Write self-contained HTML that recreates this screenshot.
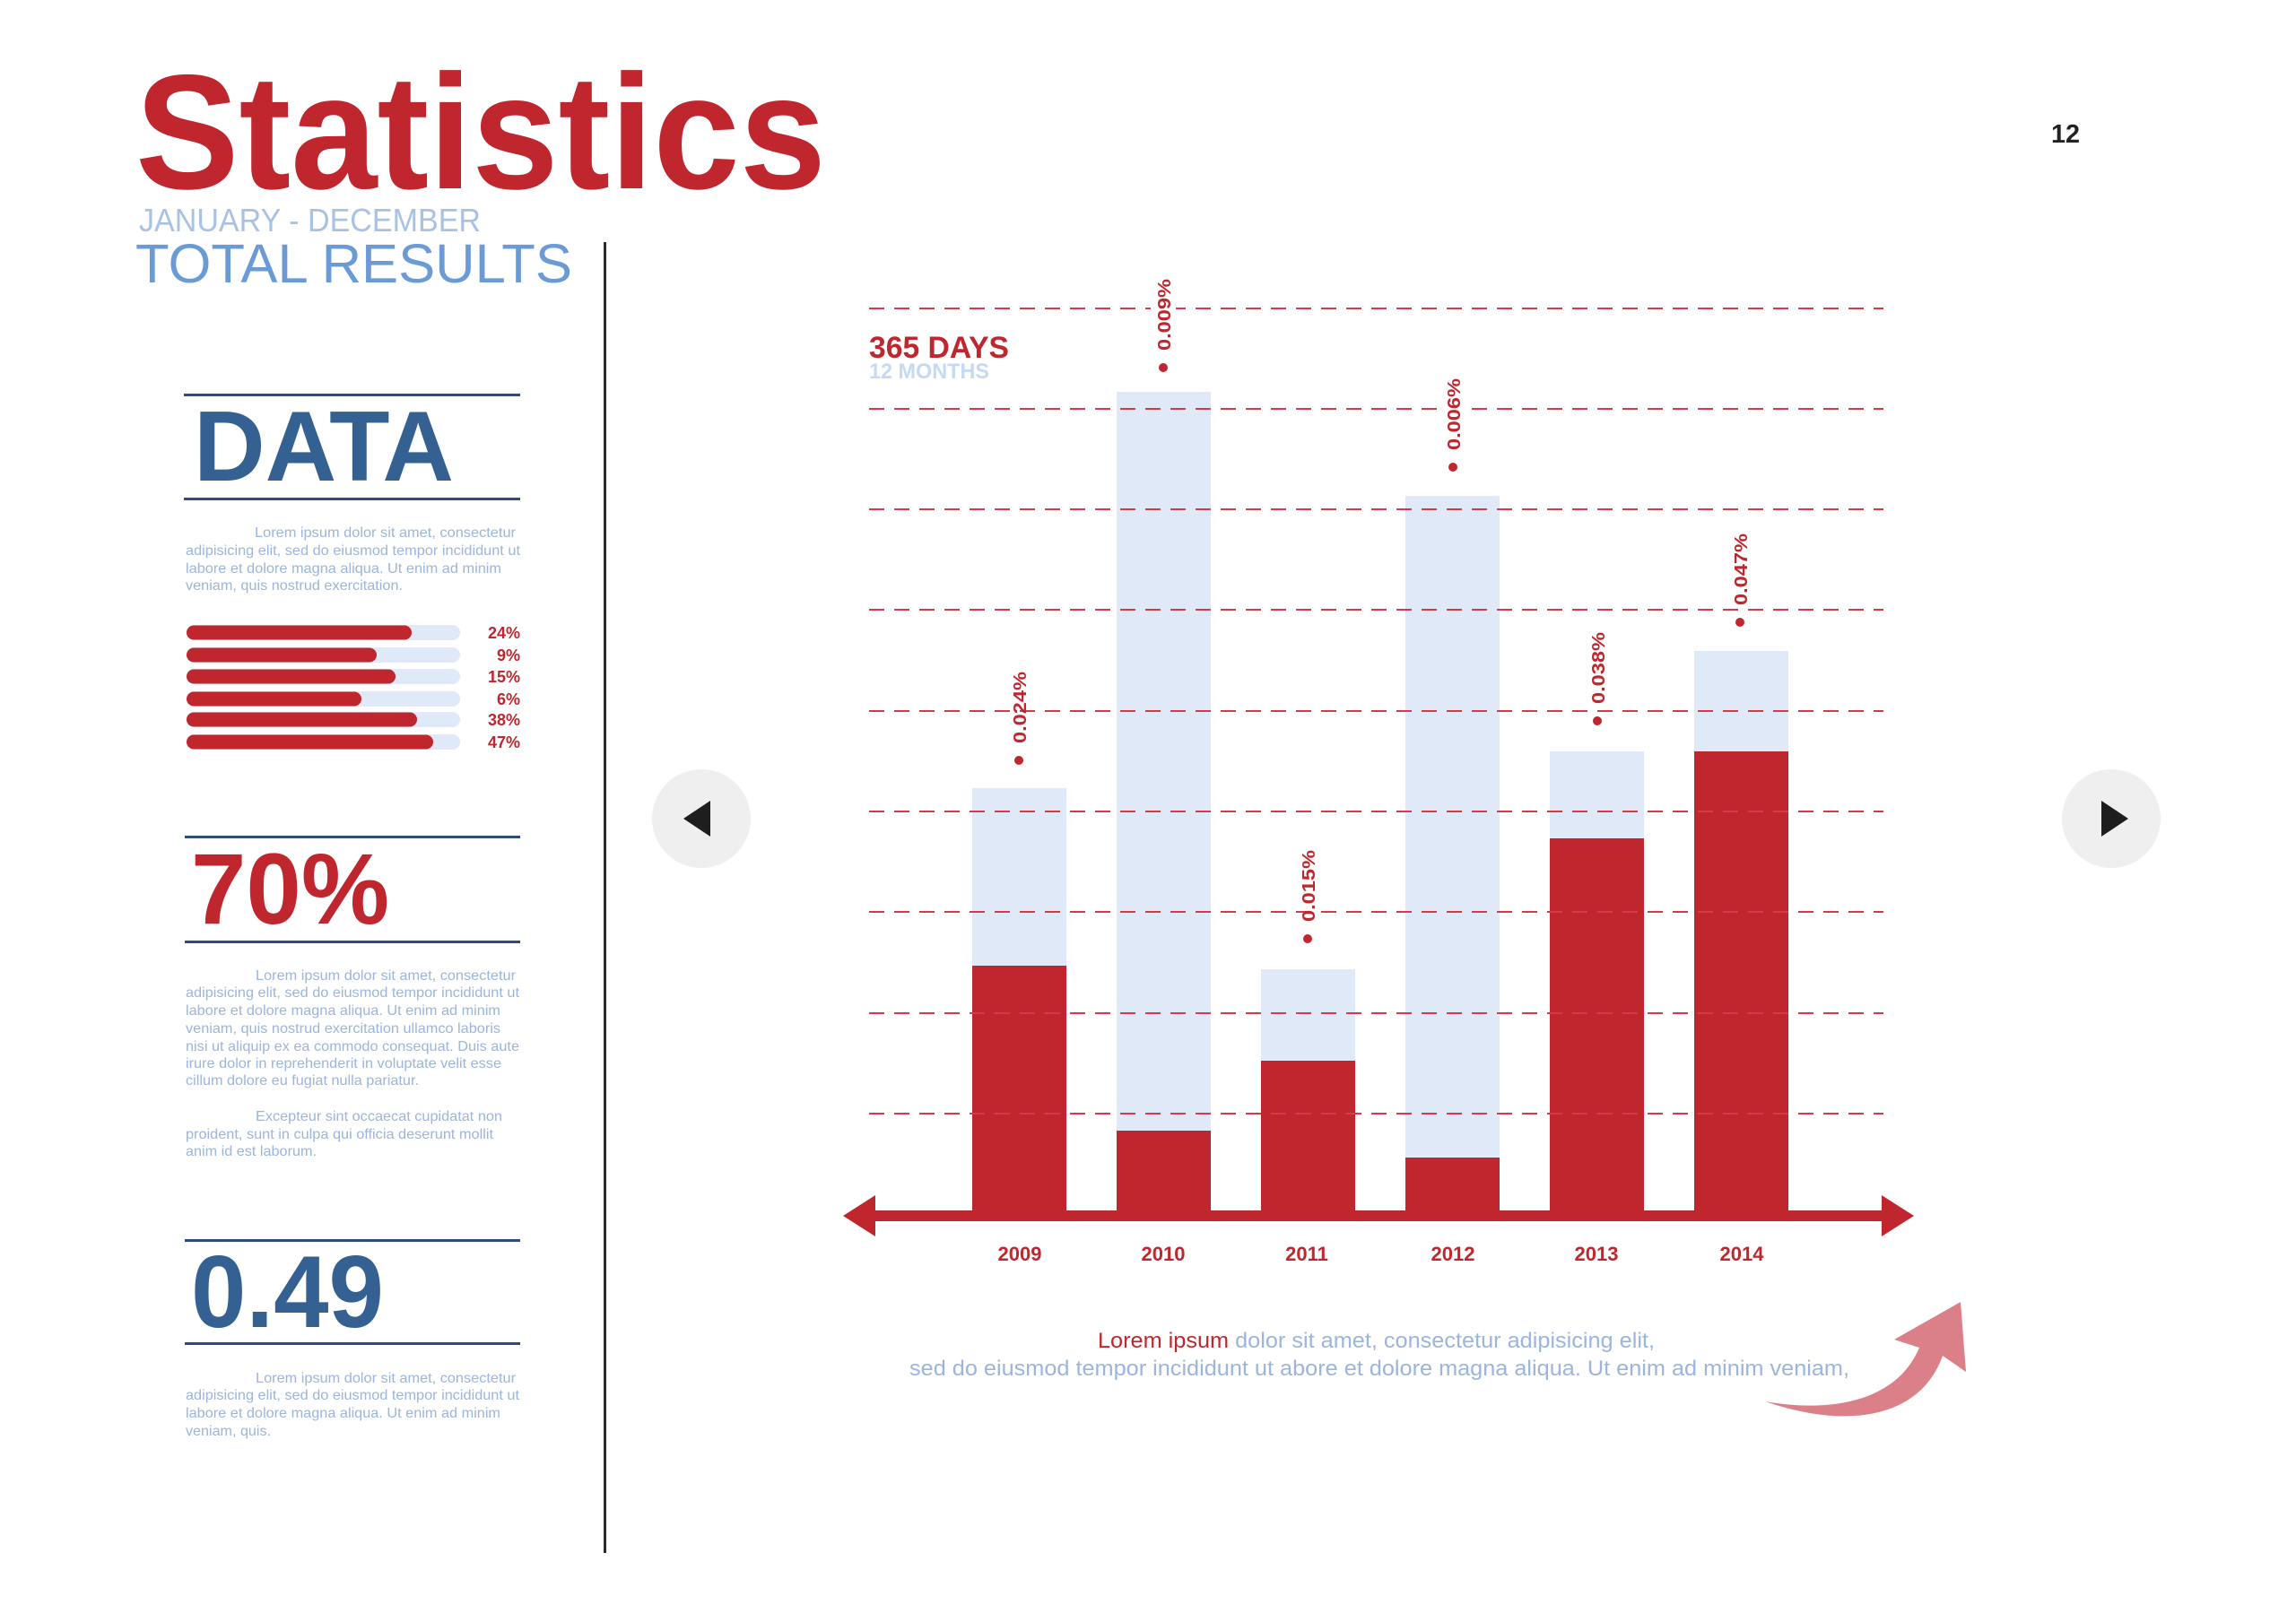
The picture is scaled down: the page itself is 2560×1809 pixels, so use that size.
<!DOCTYPE html>
<html><head><meta charset="utf-8"><style>
html,body{margin:0;padding:0;background:#fff;width:2560px;height:1809px;overflow:hidden}
svg{display:block}
text{font-family:"Liberation Sans",sans-serif}
</style></head><body>
<svg width="2560" height="1809" viewBox="0 0 2560 1809" xmlns="http://www.w3.org/2000/svg">
<rect width="2560" height="1809" fill="#fff"/>
<text x="151" y="210" font-size="182" font-weight="bold" fill="#bf262e" textLength="770" lengthAdjust="spacingAndGlyphs">Statistics</text>
<text x="155" y="258" font-size="36" fill="#a9c1e3" textLength="381" lengthAdjust="spacingAndGlyphs">JANUARY - DECEMBER</text>
<text x="151" y="315" font-size="61" fill="#6b9bd6" textLength="487" lengthAdjust="spacingAndGlyphs">TOTAL RESULTS</text>
<text x="2287" y="159" font-size="29" font-weight="bold" fill="#222" textLength="32" lengthAdjust="spacingAndGlyphs">12</text>
<rect x="673" y="270" width="3" height="1462" fill="#2a2a2a"/>

<rect x="205" y="439" width="375" height="3" fill="#2e4b7a"/>
<rect x="205" y="555" width="375" height="3" fill="#2e4b7a"/>
<text x="216" y="536" font-size="111" font-weight="bold" fill="#346192" textLength="290" lengthAdjust="spacingAndGlyphs">DATA</text>
<g font-size="16" fill="#9bb5dc">
<text x="284" y="599" textLength="291" lengthAdjust="spacingAndGlyphs">Lorem ipsum dolor sit amet, consectetur</text>
<text x="207" y="619" textLength="373" lengthAdjust="spacingAndGlyphs">adipisicing elit, sed do eiusmod tempor incididunt ut</text>
<text x="207" y="639" textLength="352" lengthAdjust="spacingAndGlyphs">labore et dolore magna aliqua. Ut enim ad minim</text>
<text x="207" y="658" textLength="242" lengthAdjust="spacingAndGlyphs">veniam, quis nostrud exercitation.</text>
</g>
<g>
<rect x="208" y="697" width="305" height="17" rx="8.5" fill="#dfe9f7"/><rect x="208" y="697.5" width="251" height="16" rx="8" fill="#bf262e"/>
<rect x="208" y="722" width="305" height="17" rx="8.5" fill="#dfe9f7"/><rect x="208" y="722.5" width="212" height="16" rx="8" fill="#bf262e"/>
<rect x="208" y="746" width="305" height="17" rx="8.5" fill="#dfe9f7"/><rect x="208" y="746.5" width="233" height="16" rx="8" fill="#bf262e"/>
<rect x="208" y="771" width="305" height="17" rx="8.5" fill="#dfe9f7"/><rect x="208" y="771.5" width="195" height="16" rx="8" fill="#bf262e"/>
<rect x="208" y="794" width="305" height="17" rx="8.5" fill="#dfe9f7"/><rect x="208" y="794.5" width="257" height="16" rx="8" fill="#bf262e"/>
<rect x="208" y="819" width="305" height="17" rx="8.5" fill="#dfe9f7"/><rect x="208" y="819.5" width="275" height="16" rx="8" fill="#bf262e"/>
</g>
<g font-size="18" font-weight="bold" fill="#bf262e" text-anchor="end">
<text x="580" y="712">24%</text><text x="580" y="737">9%</text><text x="580" y="761">15%</text>
<text x="580" y="786">6%</text><text x="580" y="809">38%</text><text x="580" y="834">47%</text>
</g>

<rect x="206" y="932" width="374" height="3" fill="#2e4b7a"/>
<rect x="206" y="1049" width="374" height="3" fill="#2e4b7a"/>
<text x="213" y="1030" font-size="112" font-weight="bold" fill="#bf262e" textLength="221" lengthAdjust="spacingAndGlyphs">70%</text>
<g font-size="16" fill="#9bb5dc">
<text x="285" y="1093" textLength="290" lengthAdjust="spacingAndGlyphs">Lorem ipsum dolor sit amet, consectetur</text>
<text x="207" y="1112" textLength="372" lengthAdjust="spacingAndGlyphs">adipisicing elit, sed do eiusmod tempor incididunt ut</text>
<text x="207" y="1132" textLength="351" lengthAdjust="spacingAndGlyphs">labore et dolore magna aliqua. Ut enim ad minim</text>
<text x="207" y="1152" textLength="351" lengthAdjust="spacingAndGlyphs">veniam, quis nostrud exercitation ullamco laboris</text>
<text x="207" y="1172" textLength="372" lengthAdjust="spacingAndGlyphs">nisi ut aliquip ex ea commodo consequat. Duis aute</text>
<text x="207" y="1191" textLength="352" lengthAdjust="spacingAndGlyphs">irure dolor in reprehenderit in voluptate velit esse</text>
<text x="207" y="1210" textLength="260" lengthAdjust="spacingAndGlyphs">cillum dolore eu fugiat nulla pariatur.</text>
<text x="285" y="1250" textLength="275" lengthAdjust="spacingAndGlyphs">Excepteur sint occaecat cupidatat non</text>
<text x="207" y="1270" textLength="343" lengthAdjust="spacingAndGlyphs">proident, sunt in culpa qui officia deserunt mollit</text>
<text x="207" y="1289" textLength="146" lengthAdjust="spacingAndGlyphs">anim id est laborum.</text>
</g>

<rect x="206" y="1382" width="374" height="3" fill="#2e4b7a"/>
<rect x="206" y="1497" width="374" height="3" fill="#2e4b7a"/>
<text x="213" y="1480" font-size="114" font-weight="bold" fill="#346192" textLength="215" lengthAdjust="spacingAndGlyphs">0.49</text>
<g font-size="16" fill="#9bb5dc">
<text x="285" y="1542" textLength="290" lengthAdjust="spacingAndGlyphs">Lorem ipsum dolor sit amet, consectetur</text>
<text x="207" y="1561" textLength="372" lengthAdjust="spacingAndGlyphs">adipisicing elit, sed do eiusmod tempor incididunt ut</text>
<text x="207" y="1581" textLength="351" lengthAdjust="spacingAndGlyphs">labore et dolore magna aliqua. Ut enim ad minim</text>
<text x="207" y="1601" textLength="95" lengthAdjust="spacingAndGlyphs">veniam, quis.</text>
</g>

<g fill="#dfe9f7">
<rect x="1084" y="879" width="105" height="475"/>
<rect x="1245" y="437" width="105" height="917"/>
<rect x="1406" y="1081" width="105" height="273"/>
<rect x="1567" y="553" width="105" height="801"/>
<rect x="1728" y="838" width="105" height="516"/>
<rect x="1889" y="726" width="105" height="628"/>
</g>
<g fill="#bf262e">
<rect x="1084" y="1077" width="105" height="277"/>
<rect x="1245" y="1261" width="105" height="93"/>
<rect x="1406" y="1183" width="105" height="171"/>
<rect x="1567" y="1291" width="105" height="63"/>
<rect x="1728" y="935" width="105" height="419"/>
<rect x="1889" y="838" width="105" height="516"/>
</g>
<g stroke="#d63a44" stroke-width="2" stroke-dasharray="17 11">
<line x1="969" y1="344" x2="2100" y2="344"/>
<line x1="969" y1="456" x2="2100" y2="456"/>
<line x1="969" y1="568" x2="2100" y2="568"/>
<line x1="969" y1="680" x2="2100" y2="680"/>
<line x1="969" y1="793" x2="2100" y2="793"/>
<line x1="969" y1="905" x2="2100" y2="905"/>
<line x1="969" y1="1017" x2="2100" y2="1017"/>
<line x1="969" y1="1130" x2="2100" y2="1130"/>
<line x1="969" y1="1242" x2="2100" y2="1242"/>
</g>
<rect x="972" y="1350" width="1130" height="12" fill="#bf262e"/>
<polygon points="940,1356 976,1333 976,1379" fill="#bf262e"/>
<polygon points="2134,1356 2098,1333 2098,1379" fill="#bf262e"/>
<g font-size="22" font-weight="bold" fill="#bf262e" text-anchor="middle">
<text x="1137" y="1406">2009</text><text x="1297" y="1406">2010</text><text x="1457" y="1406">2011</text>
<text x="1620" y="1406">2012</text><text x="1780" y="1406">2013</text><text x="1942" y="1406">2014</text>
</g>
<g fill="#fff">
<rect x="1283" y="309" width="28" height="84"/>
<rect x="1608" y="420" width="28" height="84"/>
</g>
<g fill="#bf262e">
<circle cx="1136" cy="848" r="5"/><circle cx="1297" cy="410" r="5"/><circle cx="1458" cy="1047" r="5"/>
<circle cx="1620" cy="521" r="5"/><circle cx="1781" cy="804" r="5"/><circle cx="1940" cy="694" r="5"/>
</g>
<g font-size="20" font-weight="bold" fill="#bf262e">
<text transform="translate(1144,829) rotate(-90)" textLength="80" lengthAdjust="spacingAndGlyphs">0.024%</text>
<text transform="translate(1305,391) rotate(-90)" textLength="80" lengthAdjust="spacingAndGlyphs">0.009%</text>
<text transform="translate(1466,1028) rotate(-90)" textLength="80" lengthAdjust="spacingAndGlyphs">0.015%</text>
<text transform="translate(1628,502) rotate(-90)" textLength="80" lengthAdjust="spacingAndGlyphs">0.006%</text>
<text transform="translate(1789,785) rotate(-90)" textLength="80" lengthAdjust="spacingAndGlyphs">0.038%</text>
<text transform="translate(1948,675) rotate(-90)" textLength="80" lengthAdjust="spacingAndGlyphs">0.047%</text>
</g>
<text x="969" y="399" font-size="34" font-weight="bold" fill="#bf262e" textLength="156" lengthAdjust="spacingAndGlyphs">365 DAYS</text>
<text x="969" y="422" font-size="24" font-weight="bold" fill="#c4daf3" textLength="134" lengthAdjust="spacingAndGlyphs">12 MONTHS</text>

<circle cx="782" cy="913" r="55" fill="#efefef"/>
<polygon points="762,913 792,893 792,933" fill="#1e1e1e"/>
<circle cx="2354" cy="913" r="55" fill="#efefef"/>
<polygon points="2373,913 2343,893 2343,933" fill="#1e1e1e"/>

<text x="1224" y="1503" font-size="24" textLength="621" lengthAdjust="spacingAndGlyphs"><tspan fill="#bf262e">Lorem ipsum</tspan><tspan fill="#9bb5dc"> dolor sit amet, consectetur adipisicing elit,</tspan></text>
<text x="1014" y="1534" font-size="24" fill="#9bb5dc" textLength="1048" lengthAdjust="spacingAndGlyphs">sed do eiusmod tempor incididunt ut abore et dolore magna aliqua. Ut enim ad minim veniam,</text>

<path d="M2112,1494 L2186,1452 L2192,1530 L2166,1512 C2140,1585 2055,1593 1968,1563 C2055,1578 2118,1556 2140,1503 Z" fill="#db8088"/>
</svg>
</body></html>
